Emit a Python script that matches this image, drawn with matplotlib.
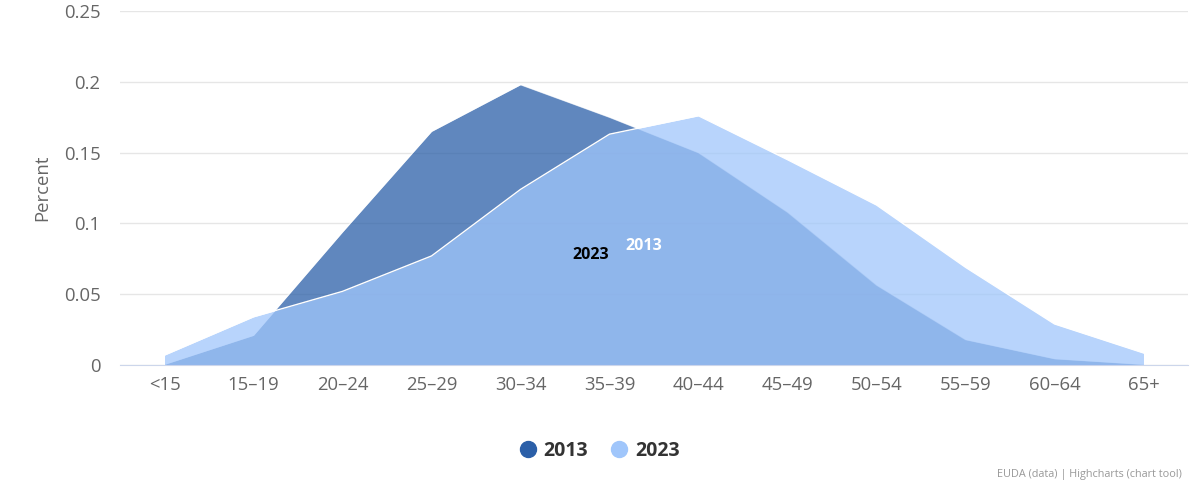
import matplotlib
matplotlib.use("Agg")
import matplotlib.pyplot as plt
from matplotlib.lines import Line2D
import numpy as np

plt.rcParams['font.family'] = ['Open Sans', 'DejaVu Sans']

categories = ["<15", "15–19", "20–24", "25–29", "30–34", "35–39", "40–44",
              "45–49", "50–54", "55–59", "60–64", "65+"]
series_2013 = [0.0005, 0.021, 0.094, 0.165, 0.198, 0.175, 0.150, 0.108, 0.0565, 0.018, 0.0045, 0.0005]
series_2023 = [0.007, 0.034, 0.052, 0.077, 0.124, 0.163, 0.176, 0.145, 0.113, 0.069, 0.029, 0.0085]
yticks = [0, 0.05, 0.1, 0.15, 0.2, 0.25]
ytick_labels = ["0", "0.05", "0.1", "0.15", "0.2", "0.25"]

c2013 = "#2b5fa8"
c2023 = "#a0c6fb"

fig = plt.figure(figsize=(12, 4.84), dpi=100)
ax = fig.add_axes([0.1, 0.2459, 0.89, 0.7314])

x = np.arange(len(categories))
ax.fill_between(x, 0, series_2013, color=c2013, alpha=0.75, linewidth=0, zorder=2)
ax.plot(x, series_2013, color="white", linewidth=1, zorder=3, alpha=0.6)
ax.fill_between(x, 0, series_2023, color=c2023, alpha=0.75, linewidth=0, zorder=4)
ax.plot(x, series_2023, color="white", linewidth=1, zorder=5)

ax.set_xlim(-0.5, len(categories) - 0.5)
ax.set_ylim(0, 0.25)
ax.set_yticks(yticks)
ax.set_yticklabels(ytick_labels)
ax.set_xticks(x)
ax.set_xticklabels(categories)
ax.tick_params(axis='both', length=0, labelsize=13.3, colors="#666666")
ax.tick_params(axis='x', pad=8)
ax.tick_params(axis='y', pad=14)
ax.grid(axis='y', color="#e6e6e6", linewidth=1, zorder=0)
ax.set_axisbelow(True)
for s in ["top", "right", "left"]:
    ax.spines[s].set_visible(False)
ax.spines["bottom"].set_color("#ccd6eb")
ax.spines["bottom"].set_zorder(6)
ax.set_ylabel("Percent", fontsize=13.3, color="#666666", labelpad=9)

# series labels
ax.text(4.79, 0.078, "2023", color="black", fontsize=11.5, fontweight="bold",
        ha="center", va="center", zorder=7)
ax.text(5.39, 0.084, "2013", color="white", fontsize=11.5, fontweight="bold",
        ha="center", va="center", zorder=7)

handles = [Line2D([], [], marker='o', linestyle='none', markersize=11.5, color=c2013),
           Line2D([], [], marker='o', linestyle='none', markersize=11.5, color=c2023)]
fig.legend(handles, ["2013", "2023"], loc="center", bbox_to_anchor=(0.5, 0.069),
           ncol=2, frameon=False, handlelength=0.8, handletextpad=0.4, columnspacing=1.2,
           prop={'size': 14, 'weight': 'bold'}, labelcolor="#333333")

fig.text(0.985, 0.02, "EUDA (data) | Highcharts (chart tool)", ha="right", va="center",
         fontsize=7.8, color="#999999")

fig.savefig("out.png", dpi=100)
